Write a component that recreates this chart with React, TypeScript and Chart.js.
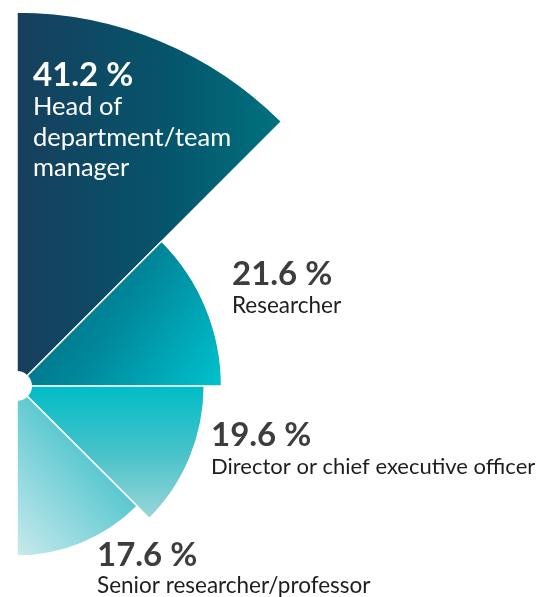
import React, { useEffect, useRef } from 'react';
import { Chart, registerables } from 'chart.js';

Chart.register(...registerables);

// ---- data ----
const categories = [
  'Head of department/team manager',
  'Researcher',
  'Director or chief executive officer',
  'Senior researcher/professor',
];
const values = [41.2, 21.6, 19.6, 17.6];
const valueLabels = ['41.2 %', '21.6 %', '19.6 %', '17.6 %'];
const labelLines = [
  ['Head of', 'department/team', 'manager'],
  ['Researcher'],
  ['Director or chief executive officer'],
  ['Senior researcher/professor'],
];

// ---- layout / style ----
const CANVAS_W = 1100;
const CANVAS_H = 748;
const CENTER_PAGE_X = 17;
const CENTER_PAGE_Y = 386;
const FONT = 'Lato, "Open Sans", sans-serif';
const labelLayout = [
  { dx: 16, dy: -300, color: '#ffffff', sub: '#ffffff', bold: 33, reg: 25.5, gap: 29 },
  { dx: 215, dy: -101, color: '#3d3d40', sub: '#1e1e20', bold: 33, reg: 22.5, gap: 28 },
  { dx: 194, dy: 60, color: '#3d3d40', sub: '#1e1e20', bold: 33, reg: 22, gap: 28 },
  { dx: 80, dy: 180, color: '#3d3d40', sub: '#1e1e20', bold: 33, reg: 22.5, gap: 27 },
];

function segmentFill(ctx: any) {
  const chart = ctx.chart;
  const scale = chart.scales && chart.scales.r;
  if (!scale || ctx.type !== 'data' || !chart.chartArea) return '#0a5670';
  const i = ctx.dataIndex;
  const cx = scale.xCenter;
  const cy = scale.yCenter;
  const R = scale.getDistanceFromCenterForValue(values[i]);
  const c: CanvasRenderingContext2D = chart.ctx;
  let g: CanvasGradient;
  if (i === 0) {
    g = c.createLinearGradient(cx, 0, cx + R * 0.72, 0);
    g.addColorStop(0, '#173f5d');
    g.addColorStop(0.55, '#05546b');
    g.addColorStop(1, '#00737f');
  } else if (i === 1) {
    g = c.createLinearGradient(cx, cy - R * 0.7, cx + R, cy);
    g.addColorStop(0, '#00627a');
    g.addColorStop(0.5, '#00879a');
    g.addColorStop(1, '#00c2ce');
  } else if (i === 2) {
    g = c.createLinearGradient(0, cy, 0, cy + R * 0.72);
    g.addColorStop(0, '#00bdc7');
    g.addColorStop(0.5, '#48c2ca');
    g.addColorStop(1, '#9dd7d8');
  } else {
    g = c.createLinearGradient(cx + R * 0.62, cy + R * 0.42, cx, cy + R);
    g.addColorStop(0, '#45c1cb');
    g.addColorStop(1, '#c8eaec');
  }
  return g;
}

const centerDisk = {
  id: 'centerDisk',
  afterDatasetsDraw(chart: any) {
    const s = chart.scales.r;
    const c = chart.ctx;
    c.save();
    c.beginPath();
    c.arc(s.xCenter, s.yCenter, 15, 0, Math.PI * 2);
    c.fillStyle = '#ffffff';
    c.fill();
    c.restore();
  },
};

const segmentLabels = {
  id: 'segmentLabels',
  afterDraw(chart: any) {
    const s = chart.scales.r;
    const c: CanvasRenderingContext2D = chart.ctx;
    c.save();
    c.textAlign = 'left';
    c.textBaseline = 'alphabetic';
    values.forEach((_, i) => {
      const L = labelLayout[i];
      const x = s.xCenter + L.dx;
      let y = s.yCenter + L.dy;
      c.fillStyle = L.color;
      c.font = `bold ${L.bold}px ${FONT}`;
      c.fillText(valueLabels[i], x, y);
      c.fillStyle = L.sub;
      c.font = `${L.reg}px ${FONT}`;
      y += L.gap;
      labelLines[i].forEach((line) => {
        c.fillText(line, x, y);
        y += 30.5;
      });
    });
    c.restore();
  },
};

export default function App() {
  const ref = useRef<HTMLCanvasElement>(null);
  useEffect(() => {
    if (!ref.current) return;
    const chart = new Chart(ref.current, {
      type: 'polarArea',
      data: {
        labels: categories,
        datasets: [
          {
            data: values,
            backgroundColor: segmentFill as any,
            borderColor: '#ffffff',
            borderWidth: 1.5,
            angle: 45,
          } as any,
        ],
      },
      options: {
        responsive: false,
        animation: false,
        devicePixelRatio: 1,
        layout: { padding: 0 },
        plugins: { legend: { display: false }, tooltip: { enabled: false } },
        scales: {
          r: {
            display: false,
            min: -2.07,
            max: 41.2,
            startAngle: 0,
          },
        },
      },
      plugins: [centerDisk, segmentLabels],
    });
    return () => chart.destroy();
  }, []);
  return (
    <div
      style={{
        position: 'absolute',
        left: 0,
        top: 0,
        width: 538,
        height: 597,
        overflow: 'hidden',
        background: '#ffffff',
      }}
    >
      <canvas
        ref={ref}
        width={CANVAS_W}
        height={CANVAS_H}
        style={{
          position: 'absolute',
          left: CENTER_PAGE_X - CANVAS_W / 2,
          top: CENTER_PAGE_Y - CANVAS_H / 2,
          width: CANVAS_W,
          height: CANVAS_H,
        }}
      />
    </div>
  );
}
